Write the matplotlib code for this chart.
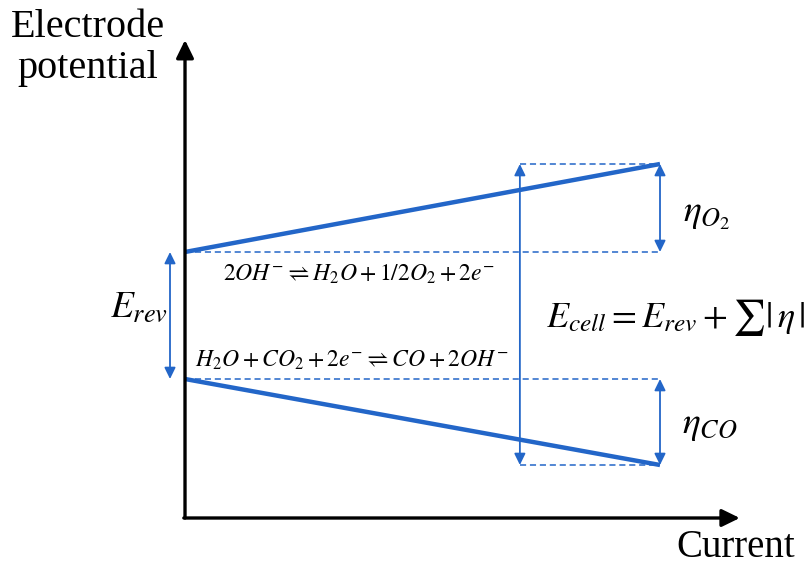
import matplotlib.pyplot as plt

plt.rcParams['mathtext.fontset'] = 'stix'
plt.rcParams['font.family'] = ['Liberation Serif', 'DejaVu Serif']

BLUE = '#2366c8'

# schematic polarisation: current (arb.) vs electrode potential (arb.)
current = [0.0, 1.0]
anode_potential = [2.66, 3.54]     # O2 evolution branch
cathode_potential = [1.39, 0.53]   # CO2 reduction branch
x_cell = 0.705                     # where the total cell voltage is marked

fig = plt.figure(figsize=(8.11, 5.71), dpi=100)
ax = fig.add_axes([0, 0, 1, 1])
ax.set_xlim(-0.3895, 1.3179)
ax.set_ylim(-0.53, 5.18)
ax.axis('off')

# axes with arrow heads
head = '-|>,head_length=0.45,head_width=0.22'
ax.annotate('', xy=(0, 4.78), xytext=(0, 0),
            arrowprops=dict(arrowstyle=head, lw=2.4, color='black',
                            mutation_scale=24, shrinkA=0, shrinkB=0))
ax.annotate('', xy=(1.168, 0), xytext=(-0.0025, 0),
            arrowprops=dict(arrowstyle=head, lw=2.4, color='black',
                            mutation_scale=24, shrinkA=0, shrinkB=0))
ax.text(-0.204, 4.81, 'Electrode', fontsize=29, ha='center', va='baseline')
ax.text(-0.204, 4.40, 'potential', fontsize=29, ha='center', va='baseline')
ax.text(1.16, -0.39, 'Current', fontsize=28, ha='center', va='baseline')

# polarisation lines
ax.plot(current, anode_potential, color=BLUE, lw=3.2, solid_capstyle='butt')
ax.plot(current, cathode_potential, color=BLUE, lw=3.2, solid_capstyle='butt')

# dashed guides
dash = dict(color=BLUE, lw=1.1, ls=(0, (4, 2.5)))
ax.plot(current, [anode_potential[0]] * 2, **dash)
ax.plot(current, [cathode_potential[0]] * 2, **dash)
ax.plot([x_cell, current[1]], [anode_potential[1]] * 2, **dash)
ax.plot([x_cell, current[1]], [cathode_potential[1]] * 2, **dash)


def double_arrow(x, y0, y1):
    ax.annotate('', xy=(x, y1), xytext=(x, y0),
                arrowprops=dict(arrowstyle='<|-|>,head_length=0.45,head_width=0.22',
                                lw=1.3, color=BLUE, mutation_scale=15,
                                shrinkA=0, shrinkB=0))


double_arrow(current[1], anode_potential[0], anode_potential[1])
double_arrow(current[1], cathode_potential[0], cathode_potential[1])
double_arrow(x_cell, cathode_potential[1], anode_potential[1])
double_arrow(-0.0316, cathode_potential[0], anode_potential[0])

# labels
ax.text(-0.097, 2.10, r'$E_{rev}$', fontsize=27, ha='center', va='center')
ax.text(1.099, 3.03, r'$\eta_{O_2}$', fontsize=27, ha='center', va='center')
ax.text(1.105, 0.92, r'$\eta_{CO}$', fontsize=27, ha='center', va='center')
ax.text(1.034, 2.00, r'$E_{cell}=E_{rev}+\sum|\,\eta\,|$', fontsize=26,
        ha='center', va='center')
ax.text(0.366, 2.44, r'$2OH^{-}\rightleftharpoons H_2O+1/2O_2+2e^{-}$',
        fontsize=17, ha='center', va='center')
ax.text(0.352, 1.58, r'$H_2O+CO_2+2e^{-}\rightleftharpoons CO+2OH^{-}$',
        fontsize=17, ha='center', va='center')

fig.savefig('out.png', dpi=100)
